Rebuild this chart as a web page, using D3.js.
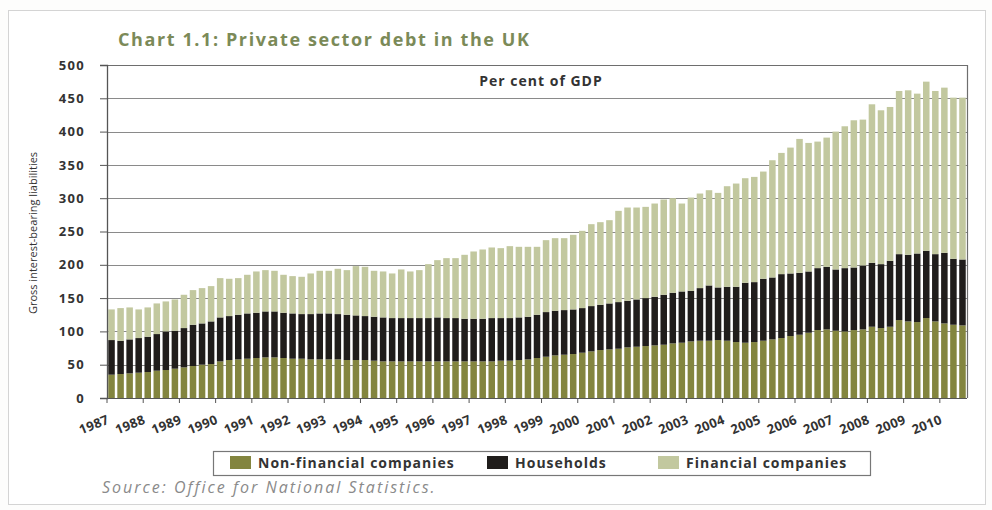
<!DOCTYPE html>
<html>
<head>
<meta charset="utf-8">
<script src="https://cdn.jsdelivr.net/npm/d3@7"></script>
<style>
  html, body { margin: 0; padding: 0; background: #ffffff; }
  svg { display: block; }
  text { font-family: "Open Sans", "DejaVu Sans", sans-serif; }
</style>
</head>
<body>
<svg id="chart" width="992" height="510"></svg>
<script>
// ---------------- data ----------------
const years = ["1987","1988","1989","1990","1991","1992","1993","1994","1995","1996","1997","1998",
               "1999","2000","2001","2002","2003","2004","2005","2006","2007","2008","2009","2010"];
const quarters = ["Q1","Q2","Q3","Q4"];
// quarterly categories 1987 Q1 .. 2010 Q3
const categories = [];
years.forEach(yr => quarters.forEach(q => { if (!(yr === "2010" && q === "Q4")) categories.push(yr + " " + q); }));

const nonFinancial = [
  35,36,37,38, 39,41,42,44, 46,48,50,51, 55,57,58,59, 60,61,61,60, 59,59,58,58,
  58,58,57,57, 57,56,55,55, 55,55,55,55, 55,55,55,55, 55,55,55,56, 56,57,58,60,
  62,64,65,66, 68,70,72,73, 74,76,77,78, 79,80,82,83, 85,86,86,87, 86,84,83,84,
  86,88,90,93, 95,98,102,103, 101,100,102,103, 107,105,107,117, 115,114,120,115,
  112,110,109];
const households = [
  52,50,51,52, 53,55,58,57, 59,62,62,64, 66,66,67,68, 68,69,69,68, 68,67,68,69,
  69,68,68,67, 66,66,66,65, 65,65,65,65, 66,65,65,64, 64,64,65,64, 64,64,64,65,
  67,67,67,67, 67,68,68,69, 70,70,71,72, 73,75,76,77, 76,79,83,79, 81,83,90,90,
  93,93,96,94, 93,92,93,94, 92,95,94,96, 96,96,99,99, 100,103,101,101,
  106,99,99];
const financial = [
  46,49,48,43, 44,46,45,47, 50,52,53,53, 59,56,55,58, 62,62,61,57, 56,56,61,64,
  64,68,67,74, 74,69,69,67, 73,70,72,81, 86,90,90,96, 101,104,106,105, 108,106,105,102,
  108,109,108,112, 116,123,124,125, 137,140,138,137, 140,143,142,132, 140,142,143,142, 151,155,157,158,
  161,176,182,189, 201,193,190,194, 207,213,221,219, 238,231,231,245, 247,240,254,245,
  248,242,243];
const seriesNames = ["Non-financial companies", "Households", "Financial companies"];
const seriesColors = ["#83853f", "#201d1b", "#c2c89f"];
const yTicks = [0, 50, 100, 150, 200, 250, 300, 350, 400, 450, 500];

// ---------------- layout ----------------
const svg = d3.select("#chart");
const pL = 107, pR = 967, pT = 65, pB = 398;

svg.append("rect").attr("x", 0).attr("y", 0).attr("width", 992).attr("height", 510).attr("fill", "#fdfdfc");
svg.append("rect").attr("x", 8.5).attr("y", 10.5).attr("width", 977).attr("height", 494)
  .attr("fill", "#ffffff").attr("stroke", "#d4d4d4");

const x = d3.scaleBand().domain(categories).range([pL, pR]).paddingInner(0.28).paddingOuter(0.14);
const y = d3.scaleLinear().domain([0, 500]).range([pB, pT]);

// gridlines
svg.append("g").selectAll("line").data(yTicks.filter(d => d > 0)).join("line")
  .attr("x1", pL).attr("x2", pR)
  .attr("y1", d => Math.round(y(d)) + 0.5).attr("y2", d => Math.round(y(d)) + 0.5)
  .attr("stroke", "#8a8a8a").attr("stroke-width", 1.1);

// stacked bars
const rows = categories.map((c, i) => ({ cat: c, nfc: nonFinancial[i], hh: households[i], fin: financial[i] }));
const stack = d3.stack().keys(["nfc", "hh", "fin"]);
const layers = stack(rows);
svg.append("g").selectAll("g").data(layers).join("g")
  .attr("fill", (d, i) => seriesColors[i])
  .selectAll("rect").data(d => d).join("rect")
  .attr("x", d => x(d.data.cat))
  .attr("width", x.bandwidth())
  .attr("y", d => y(d[1]))
  .attr("height", d => y(d[0]) - y(d[1]));

// plot frame (top & right)
svg.append("path")
  .attr("d", `M${pL},${pT + 0.5}H${pR + 0.5}V${pB}`)
  .attr("fill", "none").attr("stroke", "#6e6e6e").attr("stroke-width", 1.2);

// y axis
const yAxis = svg.append("g").attr("transform", `translate(${pL},0)`)
  .call(d3.axisLeft(y).tickValues(yTicks).tickFormat(d => String(d)).tickSize(7).tickPadding(15));
yAxis.select(".domain").attr("stroke", "#555").attr("stroke-width", 1.3);
yAxis.selectAll(".tick line").attr("stroke", "#555");
yAxis.selectAll(".tick text").attr("font-size", 13).attr("font-weight", 700).attr("fill", "#333")
  .attr("letter-spacing", 1.3)
  .attr("font-family", "'Open Sans', sans-serif");

// x axis: baseline, year ticks and rotated labels
svg.append("line").attr("x1", pL).attr("x2", pR).attr("y1", pB + 0.5).attr("y2", pB + 0.5)
  .attr("stroke", "#555").attr("stroke-width", 1.2);
const step = x.step();
const yearPos = years.map(yr => x(yr + " Q1") - x.paddingInner() * step / 2);
svg.append("g").selectAll("line").data(yearPos).join("line")
  .attr("x1", d => d).attr("x2", d => d).attr("y1", pB).attr("y2", pB + 5)
  .attr("stroke", "#555");
svg.append("g").selectAll("text").data(years).join("text")
  .attr("transform", (d, i) => `translate(${yearPos[i] + 3},${pB + 25}) rotate(-22)`)
  .attr("text-anchor", "end")
  .attr("font-size", 13).attr("font-weight", 700).attr("fill", "#333")
  .attr("letter-spacing", 0.3)
  .text(d => d);

// y title
svg.append("text")
  .attr("transform", "translate(37,233) rotate(-90)")
  .attr("text-anchor", "middle")
  .attr("font-family", "'Liberation Sans Narrow', 'DejaVu Sans Condensed', sans-serif")
  .attr("font-size", 11).attr("fill", "#333")
  .text("Gross interest-bearing liabilities");

// title
svg.append("text").attr("x", 118).attr("y", 46)
  .attr("font-size", 18).attr("font-weight", 700).attr("fill", "#7b8a58")
  .attr("letter-spacing", 1.6)
  .text("Chart 1.1: Private sector debt in the UK");

// inner label
svg.append("text").attr("x", 541).attr("y", 86).attr("text-anchor", "middle")
  .attr("font-size", 14).attr("font-weight", 700).attr("fill", "#333")
  .attr("letter-spacing", 1)
  .text("Per cent of GDP");

// legend
const lg = svg.append("g");
lg.append("rect").attr("x", 213.5).attr("y", 451.5).attr("width", 657).attr("height", 24)
  .attr("fill", "#ffffff").attr("stroke", "#777").attr("stroke-width", 1.2);
const legendX = [230, 487, 658];
seriesNames.forEach((name, i) => {
  lg.append("rect").attr("x", legendX[i]).attr("y", 456).attr("width", 21).attr("height", 13)
    .attr("fill", seriesColors[i]);
  lg.append("text").attr("x", legendX[i] + 28).attr("y", 468)
    .attr("font-size", 14).attr("font-weight", 700).attr("fill", "#333")
    .attr("letter-spacing", 1)
    .text(name);
});

// source
svg.append("text").attr("x", 102).attr("y", 493)
  .attr("font-size", 16).attr("font-style", "italic").attr("fill", "#8a8a8a")
  .attr("letter-spacing", 2)
  .text("Source: Office for National Statistics.");
</script>
</body>
</html>
